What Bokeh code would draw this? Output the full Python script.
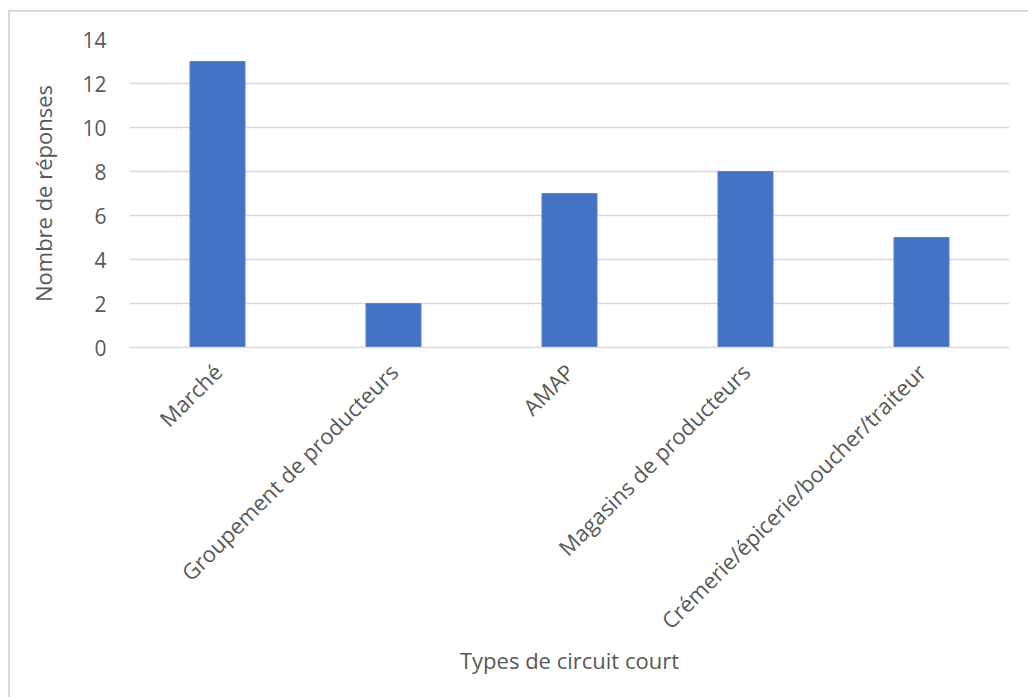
from bokeh.plotting import figure
from bokeh.models import FixedTicker, ColumnDataSource
from bokeh.embed import file_html
from bokeh.resources import INLINE
import math

categories = ["Marché", "Groupement de producteurs", "AMAP",
              "Magasins de producteurs", "Crémerie/épicerie/boucher/traiteur"]
values = [13, 2, 7, 8, 5]
y_ticks = [0, 2, 4, 6, 8, 10, 12, 14]

FONT = "Open Sans"
GREY_TXT = "#595959"
GRID = "#d9d9d9"

src = ColumnDataSource(dict(cat=categories, val=values))

p = figure(x_range=categories, y_range=(0, 14), width=1020, height=687,
           output_backend="svg", toolbar_location=None,
           min_border_left=119, min_border_right=21, min_border_top=27,
           min_border_bottom=352)
p.margin = (10, 0, 0, 8)
p.styles = {"border-top": "2px solid #d9d9d9", "border-left": "2px solid #d9d9d9",
            "box-sizing": "border-box"}

p.vbar(x="cat", top="val", width=0.313, source=src,
       fill_color="#4472C4", line_color="#5a84cf", line_width=1)

p.outline_line_color = None
p.xgrid.grid_line_color = None
p.ygrid.grid_line_color = GRID
p.ygrid.grid_line_width = 1.5
p.yaxis.ticker = FixedTicker(ticks=y_ticks)

p.yaxis.axis_line_color = None
p.yaxis.major_tick_line_color = None
p.yaxis.minor_tick_line_color = None
p.yaxis.major_label_standoff = 17
p.yaxis.axis_label = "Nombre de réponses"
p.yaxis.axis_label_standoff = 21

p.xaxis.axis_line_color = GRID
p.xaxis.axis_line_width = 1.5
p.xaxis.major_tick_line_color = None
p.xaxis.minor_tick_line_color = None
p.xaxis.major_label_orientation = math.pi / 4
p.xaxis.major_label_standoff = 14
p.xaxis.axis_label = "Types de circuit court"
p.xaxis.axis_label_standoff = -3

for ax in (p.xaxis, p.yaxis):
    ax.major_label_text_font = FONT
    ax.major_label_text_color = GREY_TXT
    ax.axis_label_text_font = FONT
    ax.axis_label_text_font_size = "22px"
    ax.axis_label_text_font_style = "normal"
    ax.axis_label_text_color = GREY_TXT
p.yaxis.major_label_text_font_size = "21px"
p.xaxis.major_label_text_font_size = "22px"

open("out.html", "w").write(file_html(p, INLINE))
